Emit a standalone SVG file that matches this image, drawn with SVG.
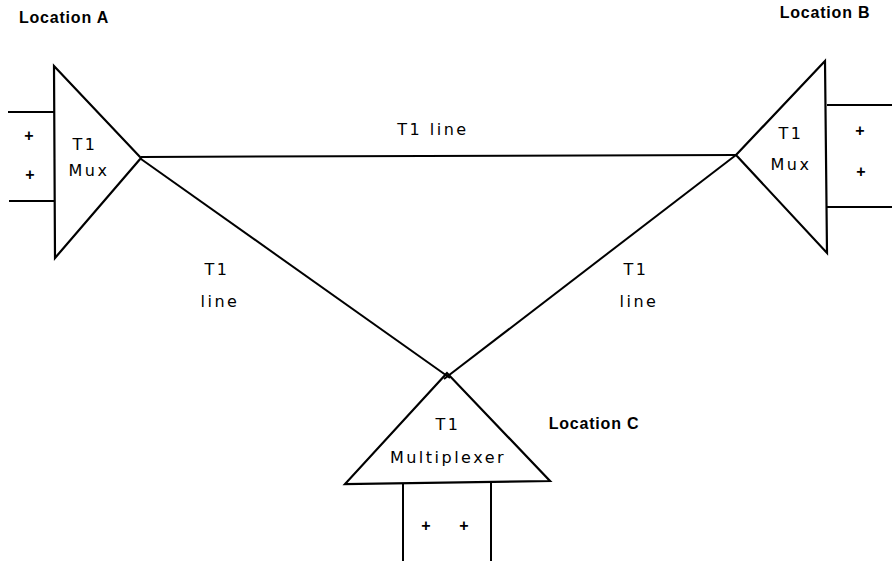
<svg xmlns="http://www.w3.org/2000/svg" width="892" height="561" viewBox="0 0 892 561">
<style>
.sh{fill:none;stroke:#000;stroke-width:2.2;stroke-linejoin:miter}
.ln{fill:none;stroke:#000;stroke-width:2}
.t{font-family:"DejaVu Sans","Liberation Sans",sans-serif;font-size:16px;fill:#000;text-anchor:middle;letter-spacing:2.5px}
.loc{font-family:"Liberation Sans",sans-serif;font-size:16px;font-weight:bold;fill:#000;text-anchor:middle;letter-spacing:0.8px}
.p{font-family:"Liberation Sans",sans-serif;font-size:16px;font-weight:bold;fill:#000;text-anchor:middle}
</style>
<rect width="892" height="561" fill="#fff"/>
<g id="connectors">
<line class="ln" x1="141" y1="157" x2="736" y2="155"/>
<line class="ln" x1="141" y1="159" x2="450" y2="378"/>
<line class="ln" x1="736" y1="155" x2="444" y2="379"/>
<text class="t" x="433" y="135">T1 line</text>
<text class="t" x="217" y="275">T1</text>
<text class="t" x="220" y="307">line</text>
<text class="t" x="636" y="275">T1</text>
<text class="t" x="639" y="307">line</text>
</g>
<g id="muxA">
<polygon class="sh" points="54,66 55,258 141,158"/>
<line class="ln" x1="8" y1="112" x2="54" y2="112"/>
<line class="ln" x1="9" y1="201" x2="54" y2="201"/>
<text class="p" x="29" y="141">+</text>
<text class="p" x="30" y="180">+</text>
<text class="t" x="85" y="150">T1</text>
<text class="t" x="89" y="176">Mux</text>
<text class="loc" x="64" y="23">Location A</text>
</g>
<g id="muxB">
<polygon class="sh" points="825,61 827,253 736,155"/>
<line class="ln" x1="827" y1="105" x2="892" y2="105"/>
<line class="ln" x1="827" y1="207" x2="892" y2="207"/>
<text class="p" x="860" y="136">+</text>
<text class="p" x="861" y="177">+</text>
<text class="t" x="791" y="139">T1</text>
<text class="t" x="791" y="170">Mux</text>
<text class="loc" x="825" y="18">Location B</text>
</g>
<g id="muxC">
<polygon class="sh" points="447,373 345,484 550,481"/>
<line class="ln" x1="403" y1="484" x2="403" y2="561"/>
<line class="ln" x1="491" y1="482" x2="491" y2="561"/>
<text class="p" x="426" y="531">+</text>
<text class="p" x="464" y="531">+</text>
<text class="t" x="448" y="430">T1</text>
<text class="t" x="448" y="463">Multiplexer</text>
<text class="loc" x="594" y="429">Location C</text>
</g>
</svg>
